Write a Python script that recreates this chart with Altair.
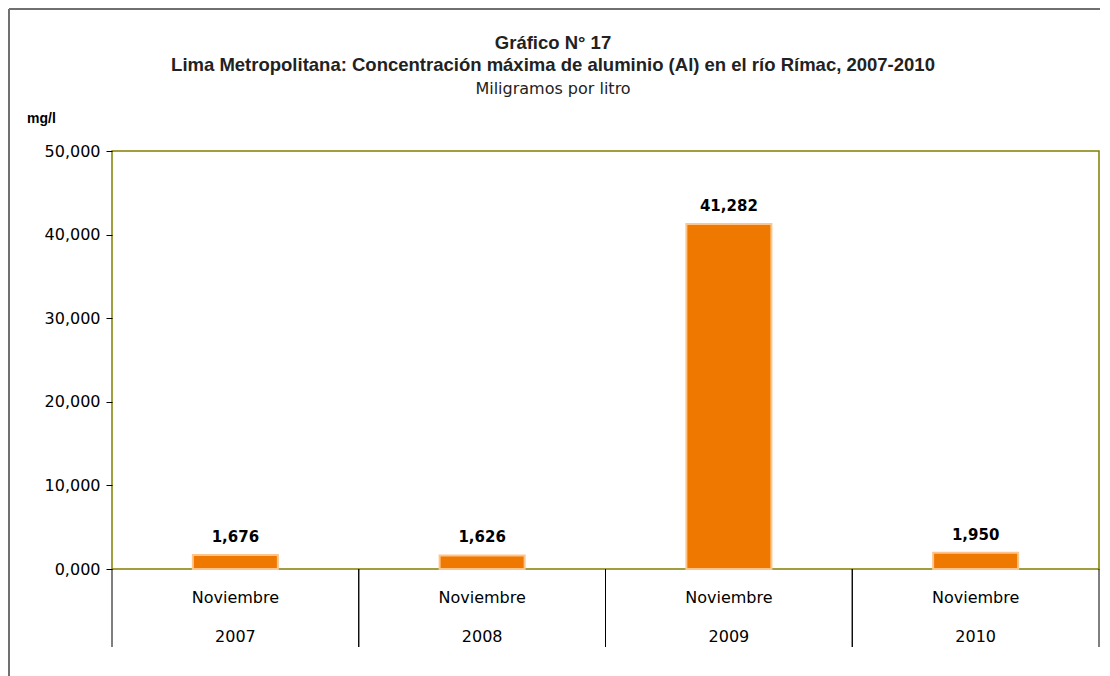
import altair as alt
import pandas as pd

years = ["2007", "2008", "2009", "2010"]
months = ["Noviembre", "Noviembre", "Noviembre", "Noviembre"]
values = [1.676, 1.626, 41.282, 1.950]

title1 = "Gráfico N° 17"
title2 = "Lima Metropolitana: Concentración máxima de aluminio (Al) en el río Rímac, 2007-2010"
title3 = "Miligramos por litro"
unit = "mg/l"

df = pd.DataFrame({"year": years, "month": months, "value": values})
one = pd.DataFrame({"k": [0]})

FONT = "Liberation Sans"
LFONT = "DejaVu Sans"
W, H = 987, 418

xs = alt.Scale(domain=years, paddingInner=0, paddingOuter=0)
ys = alt.Scale(domain=[0, 50])

base = alt.Chart(df)

bars = base.mark_bar(size=85, color="#EE7800", stroke="#FFC48A", strokeWidth=2).encode(
    x=alt.X("year:N", scale=xs, axis=None),
    y=alt.Y(
        "value:Q",
        scale=ys,
        axis=alt.Axis(
            values=[0, 10, 20, 30, 40, 50],
            labelExpr="replace(format(datum.value, '.3f'), '.', ',')",
            title=None,
            domain=False,
            grid=False,
            tickColor="black",
            tickSize=6,
            labelFont=LFONT,
            labelFontSize=16,
            labelColor="black",
            labelPadding=6,
        ),
    ),
)

bar_labels = base.transform_calculate(
    lab="replace(format(datum.value, '.3f'), '.', ',')"
).mark_text(font=LFONT, fontSize=15, fontWeight="bold", color="black", baseline="alphabetic", dy=-13).encode(
    x=alt.X("year:N", scale=xs, axis=None),
    y=alt.Y("value:Q", scale=ys),
    text="lab:N",
)

rules_left = base.mark_rule(color="black", strokeWidth=1).encode(
    x=alt.X("year:N", scale=xs, axis=None, bandPosition=0),
    y=alt.value(H),
    y2=alt.value(496),
)
rules_right = base.mark_rule(color="black", strokeWidth=1).encode(
    x=alt.X("year:N", scale=xs, axis=None, bandPosition=1),
    y=alt.value(H),
    y2=alt.value(496),
)

month_text = base.mark_text(font=LFONT, fontSize=16, color="black", baseline="middle").encode(
    x=alt.X("year:N", scale=xs, axis=None),
    y=alt.value(447),
    text="month:N",
)
year_text = base.mark_text(font=LFONT, fontSize=16, color="black", baseline="middle").encode(
    x=alt.X("year:N", scale=xs, axis=None),
    y=alt.value(486),
    text="year:N",
)

frame_top = alt.Chart(one).mark_rule(color="#707070", strokeWidth=2).encode(
    x=alt.value(-103), x2=alt.value(988), y=alt.value(-142)
)
frame_left = alt.Chart(one).mark_rule(color="#707070", strokeWidth=2).encode(
    x=alt.value(-103), y=alt.value(-142), y2=alt.value(540)
)

t1 = alt.Chart(one).transform_calculate(t=f"'{title1}'").mark_text(
    font=FONT, fontSize=18.5, fontWeight="bold", color="#222222", baseline="alphabetic"
).encode(x=alt.value(441), y=alt.value(-102), text="t:N")
t2 = alt.Chart(one).transform_calculate(t=f"'{title2}'").mark_text(
    font=FONT, fontSize=18.5, fontWeight="bold", color="#222222", baseline="alphabetic"
).encode(x=alt.value(441), y=alt.value(-80), text="t:N")
t3 = alt.Chart(one).transform_calculate(t=f"'{title3}'").mark_text(
    font=LFONT, fontSize=16, color="#222222", baseline="alphabetic"
).encode(x=alt.value(441), y=alt.value(-57), text="t:N")
t_unit = alt.Chart(one).transform_calculate(t=f"'{unit}'").mark_text(
    font=FONT, fontSize=14, fontWeight="bold", color="black", align="left", baseline="alphabetic"
).encode(x=alt.value(-85), y=alt.value(-28), text="t:N")

chart = alt.layer(
    frame_top, frame_left, rules_left, rules_right, bars, bar_labels,
    month_text, year_text, t1, t2, t3, t_unit
).properties(
    width=W, height=H,
    autosize=alt.AutoSizeParams(type="none"),
    padding={"left": 104, "top": 143, "right": 2, "bottom": 110},
    background="white",
).configure_view(stroke="#808000", strokeWidth=1.5)

chart.save("out.html", embed_options={"renderer": "svg", "actions": False})
